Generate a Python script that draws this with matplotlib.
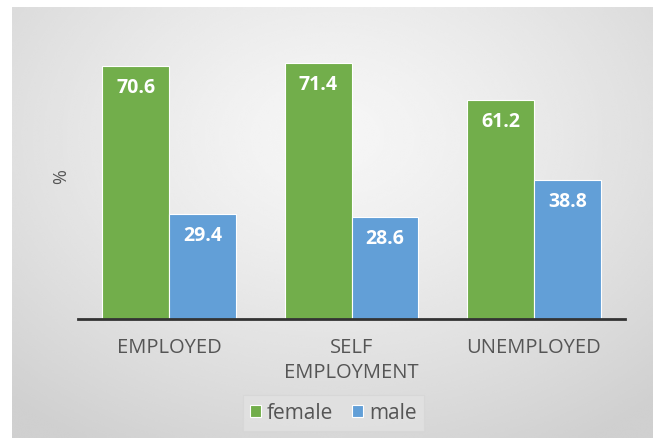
import matplotlib.pyplot as plt
import numpy as np

# Datos: porcentaje por situacion laboral y sexo
categories = ["EMPLOYED", "SELF\nEMPLOYMENT", "UNEMPLOYED"]
female = [70.6, 71.4, 61.2]
male = [29.4, 28.6, 38.8]

green = "#72AE4B"
blue = "#629FD7"
text_gray = "#555555"

plt.rcParams['font.family'] = ['Open Sans', 'DejaVu Sans']

fig = plt.figure(figsize=(6.53, 4.39), dpi=100)
fig.patch.set_facecolor("white")

# Fondo con degradado radial (claro arriba al centro, gris en los bordes)
bg = fig.add_axes([12 / 653, 0, 1 - 12 / 653, 1 - 8 / 439])
yy, xx = np.mgrid[0:1:300j, 0:1:450j]
r = np.sqrt(((xx - 0.5) / 1.0) ** 2 + ((yy - 0.30) / 1.1) ** 2)
r = np.clip(r / 0.75, 0, 1)
c0, c1 = 0.965, 0.815
img = c0 + (c1 - c0) * r ** 1.3
bg.imshow(img, cmap="gray", vmin=0, vmax=1, aspect="auto",
          extent=[0, 1, 1, 0], interpolation="bicubic")
bg.set_axis_off()

ax = fig.add_axes([78 / 653, 119 / 439, 547 / 653, 0.653])
ax.set_facecolor("none")

x = np.arange(len(categories))
w = 0.367
b1 = ax.bar(x - w / 2, female, w, color=green, edgecolor="white",
            linewidth=0.8, label="female", zorder=2)
b2 = ax.bar(x + w / 2, male, w, color=blue, edgecolor="white",
            linewidth=0.8, label="male", zorder=2)

for bars, vals in ((b1, female), (b2, male)):
    for rect, v in zip(bars, vals):
        ax.annotate(f"{v}", (rect.get_x() + rect.get_width() / 2, v),
                    xytext=(0, -21), textcoords="offset pixels",
                    ha="center", va="center", color="white",
                    fontsize=14, fontweight="bold", zorder=3)

ax.set_xlim(-0.5, 2.5)
ax.set_ylim(0, 80)
ax.set_yticks([])
ax.set_xticks(x)
ax.set_xticklabels(categories, fontsize=14.5, color=text_gray, linespacing=1.3)
ax.tick_params(axis="x", length=0, pad=13)

for s in ("top", "right", "left"):
    ax.spines[s].set_visible(False)
ax.spines["bottom"].set_color("#333333")
ax.spines["bottom"].set_linewidth(2)
ax.spines["bottom"].set_zorder(4)

ax.set_ylabel("%", fontsize=13, color=text_gray, labelpad=6)

leg = ax.legend(loc="center", bbox_to_anchor=(333.5 / 653, 1 - 414 / 439),
                bbox_transform=fig.transFigure, ncol=2, frameon=True,
                fontsize=15, handlelength=0.5, handleheight=0.5,
                handletextpad=0.3, columnspacing=0.9, borderpad=0.35,
                fancybox=False, labelcolor=text_gray)
leg.get_frame().set_facecolor("#E2E2E2")
leg.get_frame().set_edgecolor("#D6D6D6")
leg.get_frame().set_linewidth(0.8)

plt.savefig("out.png", dpi=100)
